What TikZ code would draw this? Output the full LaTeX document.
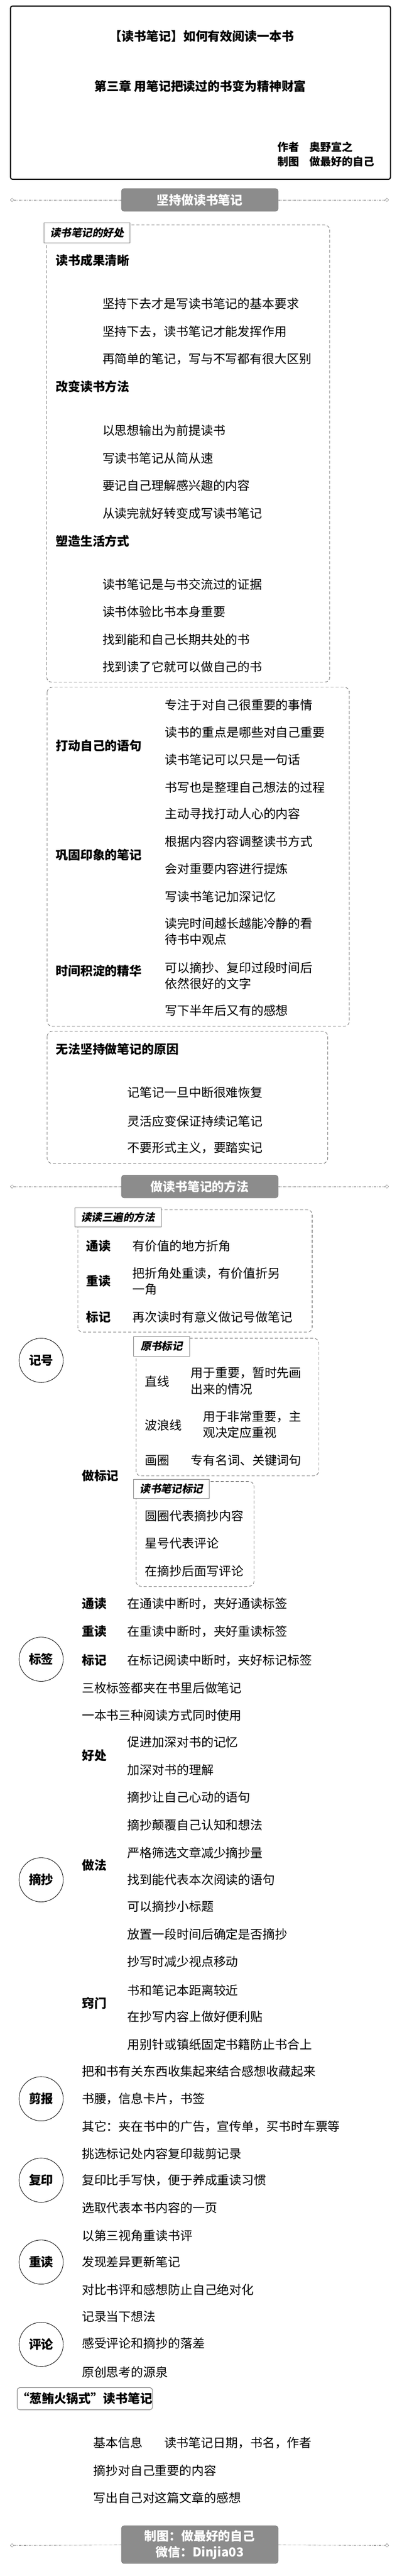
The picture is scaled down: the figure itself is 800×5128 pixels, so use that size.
\documentclass[tikz,border=0pt]{standalone}
\usepackage{fontspec}
\setmainfont{Noto Sans CJK SC}
\newfontfamily\slfont{Noto Sans CJK SC}[FakeSlant=0.2]
\usetikzlibrary{shapes.geometric}
\newcommand\fsz{\fontsize{24.5}{32}\selectfont}
\newcommand\fsl{\fontsize{21}{26}\selectfont}
\newcommand\fsa{\fontsize{21.5}{29}\selectfont}
\begin{document}
\begin{tikzpicture}[x=1pt,y=-1pt,
  txt/.style={anchor=west,inner sep=0pt,font=\fsz,align=left},
  bld/.style={txt,font=\fsz\bfseries},
  ttl/.style={inner sep=0pt,font=\fsz\bfseries},
  auth/.style={anchor=west,inner sep=0pt,font=\fsa\bfseries},
  dbox/.style={draw=black!70,dash pattern=on 6pt off 4pt,rounded corners=10pt,line width=0.7pt},
  lbl/.style={rectangle,draw=black!50,fill=white,line width=0.8pt,inner sep=0pt,font=\fsl\slfont\bfseries},
  circ/.style={circle,draw=black,line width=0.9pt,minimum size=88pt,inner sep=0pt,font=\fsz\bfseries},
  banner/.style={rectangle,rounded corners=5pt,fill=black!45,draw=black!55,line width=0.8pt,text=white,font=\fsz\bfseries,inner sep=0pt,align=center,minimum width=312pt},
  dia/.style={diamond,draw=black!60,fill=white,inner sep=0pt,minimum size=7pt},
  ddline/.style={draw=black!55,dash pattern=on 5pt off 2pt on 1pt off 2pt,line width=0.6pt},
  hotbox/.style={rectangle,rounded corners=5pt,draw=black!55,fill=white,line width=1pt,inner sep=0pt,font=\fsz\bfseries,minimum width=258pt,minimum height=44pt}
]
\fill[white] (0,0) rectangle (800,5128);
\useasboundingbox (0,0) rectangle (800,5128);

% ---------- title ----------
\draw[line width=2.2pt,rounded corners=4pt] (21,12) rectangle (778,357);
\node[ttl] (t1) at (402,72) {【读书笔记】如何有效阅读一本书};
\node[ttl] (t2) at (399,172) {第三章 用笔记把读过的书变为精神财富};
\node[auth] (a1) at (553,293) {作者};
\node[auth] (a2) at (617,293) {奥野宣之};
\node[auth] (a3) at (553,322) {制图};
\node[auth] (a4) at (617,322) {做最好的自己};

% ---------- banner 1 ----------
\node[banner,minimum height=45pt] (ban1) at (398,398) {坚持做读书笔记};
\node[dia] (d1l) at (24,398) {};
\node[dia] (d1r) at (771,398) {};
\draw[ddline] (d1l) -- (ban1);
\draw[ddline] (ban1) -- (d1r);

% ---------- section 1 ----------
\draw[dbox] (93,448) rectangle (657,1358);
\node[lbl,minimum width=171pt,minimum height=40pt] (L1) at (173.5,463) {读书笔记的好处};
\node[bld] (h11) at (111,518) {读书成果清晰};
\foreach \y/\t [count=\i] in {605/坚持下去才是写读书笔记的基本要求,660/坚持下去，读书笔记才能发挥作用,715/再简单的笔记，写与不写都有很大区别}
  \node[txt] (sa\i) at (204,\y) {\t};
\node[bld] (h12) at (111,770) {改变读书方法};
\foreach \y/\t [count=\i] in {857/以思想输出为前提读书,912/写读书笔记从简从速,967/要记自己理解感兴趣的内容,1022/从读完就好转变成写读书笔记}
  \node[txt] (sb\i) at (204,\y) {\t};
\node[bld] (h13) at (111,1077) {塑造生活方式};
\foreach \y/\t [count=\i] in {1163/读书笔记是与书交流过的证据,1218/读书体验比书本身重要,1273/找到能和自己长期共处的书,1328/找到读了它就可以做自己的书}
  \node[txt] (sc\i) at (204,\y) {\t};

% ---------- section 2 ----------
\draw[dbox] (94,1368) rectangle (696,2043);
\node[bld] (h21) at (111,1485) {打动自己的语句};
\foreach \y/\t [count=\i] in {1403/专注于对自己很重要的事情,1458/读书的重点是哪些对自己重要,1512/读书笔记可以只是一句话,1567/书写也是整理自己想法的过程,1620/主动寻找打动人心的内容,1675/根据内容内容调整读书方式,1730/会对重要内容进行提炼,1785/写读书笔记加深记忆}
  \node[txt] (sd\i) at (329,\y) {\t};
\node[bld] (h22) at (111,1702) {巩固印象的笔记};
\node[txt] (sd9) at (329,1854) {读完时间越长越能冷静的看\\待书中观点};
\node[bld] (h23) at (111,1933) {时间积淀的精华};
\node[txt] (sd10) at (329,1942) {可以摘抄、复印过段时间后\\依然很好的文字};
\node[txt] (sd11) at (329,2012) {写下半年后又有的感想};

% ---------- section 3 ----------
\draw[dbox] (94,2053) rectangle (653,2316);
\node[bld] (h31) at (111,2088) {无法坚持做笔记的原因};
\foreach \y/\t [count=\i] in {2175/记笔记一旦中断很难恢复,2232/灵活应变保证持续记笔记,2285/不要形式主义，要踏实记}
  \node[txt] (se\i) at (254,\y) {\t};

% ---------- banner 2 ----------
\node[banner,minimum height=45pt] (ban2) at (398,2362) {做读书笔记的方法};
\node[dia] (d2l) at (24,2362) {};
\node[dia] (d2r) at (771,2362) {};
\draw[ddline] (d2l) -- (ban2);
\draw[ddline] (ban2) -- (d2r);

% ---------- read three times ----------
\draw[dbox] (155,2408) rectangle (622,2652);
\node[lbl,minimum width=172pt,minimum height=38pt] (L4) at (235,2423) {读读三遍的方法};
\node[bld] (h41) at (172,2480) {通读};
\node[txt] (j41) at (264,2480) {有价值的地方折角};
\node[bld] (h42) at (172,2550) {重读};
\node[txt] (j42) at (264,2551) {把折角处重读，有价值折另\\一角};
\node[bld] (h43) at (172,2622) {标记};
\node[txt] (j43) at (264,2622) {再次读时有意义做记号做笔记};

% ---------- 记号 ----------
\node[circ] (c1) at (82,2708) {记号};
\draw[dbox] (271,2664) rectangle (635,2938);
\node[lbl,minimum width=112pt,minimum height=39pt] (L5) at (322,2680) {原书标记};
\node[txt] (k1) at (289,2750) {直线};
\node[txt] (k1b) at (380,2749) {用于重要，暂时先画\\出来的情况};
\node[txt] (k2) at (289,2837) {波浪线};
\node[txt] (k2b) at (404,2836) {用于非常重要，主\\观决定应重视};
\node[txt] (k3) at (289,2907) {画圈};
\node[txt] (k3b) at (380,2907) {专有名词、关键词句};
\node[bld] (h5) at (163,2938) {做标记};
\draw[dbox] (271,2949) rectangle (506,3158);
\node[lbl,minimum width=151pt,minimum height=38pt] (L6) at (341.5,2964) {读书笔记标记};
\foreach \y/\t [count=\i] in {3018/圆圈代表摘抄内容,3072/星号代表评论,3127/在摘抄后面写评论}
  \node[txt] (sf\i) at (289,\y) {\t};

% ---------- 标签 ----------
\node[circ] (c2) at (82,3303) {标签};
\node[bld] (m1) at (163,3192) {通读};
\node[txt] (m1b) at (254,3192) {在通读中断时，夹好通读标签};
\node[bld] (m2) at (163,3248) {重读};
\node[txt] (m2b) at (254,3248) {在重读中断时，夹好重读标签};
\node[bld] (m3) at (163,3305) {标记};
\node[txt] (m3b) at (254,3305) {在标记阅读中断时，夹好标记标签};
\node[txt] (m4) at (163,3360) {三枚标签都夹在书里后做笔记};
\node[txt] (m5) at (163,3415) {一本书三种阅读方式同时使用};

% ---------- 摘抄 ----------
\node[circ] (c3) at (82,3742) {摘抄};
\node[bld] (n1) at (163,3495) {好处};
\node[bld] (n2) at (163,3713) {做法};
\node[bld] (n3) at (163,3988) {窍门};
\foreach \y/\t [count=\i] in {3468/促进加深对书的记忆,3523/加深对书的理解,3578/摘抄让自己心动的语句,3633/摘抄颠覆自己认知和想法,3688/严格筛选文章减少摘抄量,3742/找到能代表本次阅读的语句,3795/可以摘抄小标题,3850/放置一段时间后确定是否摘抄,3905/抄写时减少视点移动,3962/书和笔记本距离较近,4015/在抄写内容上做好便利贴,4070/用别针或镇纸固定书籍防止书合上}
  \node[txt] (sg\i) at (254,\y) {\t};

% ---------- 剪报 / 复印 / 重读 / 评论 ----------
\node[circ] (c4) at (82,4178) {剪报};
\foreach \y/\t [count=\i] in {4123/把和书有关东西收集起来结合感想收藏起来,4178/书腰，信息卡片，书签,4233/其它：夹在书中的广告，宣传单，买书时车票等}
  \node[txt] (sh\i) at (163,\y) {\t};
\node[circ] (c5) at (82,4340) {复印};
\foreach \y/\t [count=\i] in {4287/挑选标记处内容复印裁剪记录,4340/复印比手写快，便于养成重读习惯,4395/选取代表本书内容的一页}
  \node[txt] (si\i) at (163,\y) {\t};
\node[circ] (c6) at (82,4503) {重读};
\foreach \y/\t [count=\i] in {4450/以第三视角重读书评,4503/发现差异更新笔记,4558/对比书评和感想防止自己绝对化}
  \node[txt] (sj\i) at (163,\y) {\t};
\node[circ] (c7) at (82,4667) {评论};
\foreach \y/\t [count=\i] in {4612/记录当下想法,4665/感受评论和摘抄的落差,4722/原创思考的源泉}
  \node[txt] (sk\i) at (163,\y) {\t};

% ---------- 葱鲔火锅式 ----------
\node[hotbox] (q) at (169,4775) {“葱鲔火锅式”读书笔记};
\node[txt] (r1) at (186,4863) {基本信息};
\node[txt] (r1b) at (327,4863) {读书笔记日期，书名，作者};
\node[txt] (r2) at (186,4918) {摘抄对自己重要的内容};
\node[txt] (r3) at (186,4972) {写出自己对这篇文章的感想};

% ---------- footer banner ----------
\node[banner,minimum height=75pt] (ban3) at (398,5065.5) {制图：做最好的自己\\微信：Dinjia03};
\node[dia] (d3l) at (24,5067) {};
\node[dia] (d3r) at (771,5067) {};
\draw[ddline] (d3l) -- (ban3);
\draw[ddline] (ban3) -- (d3r);
\end{tikzpicture}
\end{document}
